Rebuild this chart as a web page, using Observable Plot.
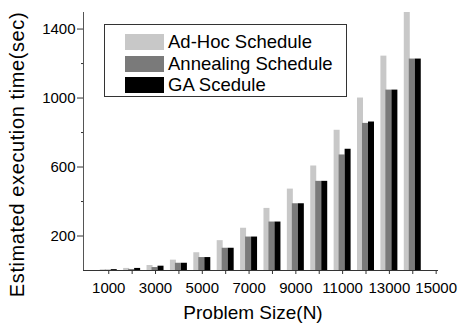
<!DOCTYPE html>
<html>
<head>
<meta charset="utf-8">
<script src="https://cdn.jsdelivr.net/npm/d3@7"></script>
<script src="https://cdn.jsdelivr.net/npm/@observablehq/plot@0.6"></script>
<style>
  html, body { margin: 0; padding: 0; background: #fff; }
  #wrap { position: relative; width: 461px; height: 326px; font-family: "Liberation Sans", Arial, sans-serif; }
  #legend { position: absolute; left: 104px; top: 24px; width: 241px; height: 71px; border: 1px solid #333; background: #fff; }
  .row { position: absolute; left: 20px; height: 16px; display: flex; align-items: center; }
  .sw { width: 39px; height: 16px; margin-right: 4px; }
  .lab { font-size: 18.5px; color: #000; white-space: nowrap; }
</style>
</head>
<body>
<div id="wrap"></div>
<script>
const sizes = [1000, 2000, 3000, 4000, 5000, 6000, 7000, 8000, 9000, 10000, 11000, 12000, 13000, 14000];
const adHoc     = [4, 12, 29, 60, 103, 173, 245, 360, 472, 606, 813, 1000, 1243, 1500];
const annealing = [2, 6, 17, 42, 75, 129, 194, 281, 387, 517, 670, 853, 1046, 1226];
const ga        = [5, 12, 25, 42, 75, 129, 194, 281, 387, 517, 703, 861, 1046, 1226];
const seriesNames = ["Ad-Hoc Schedule", "Annealing Schedule", "GA Scedule"];
const seriesColors = ["#c8c8c8", "#7a7a7a", "#000000"];
const xTicks = [1000,2000,3000,4000,5000,6000,7000,8000,9000,10000,11000,12000,13000,14000,15000];
const xTickLabels = [1000,3000,5000,7000,9000,11000,13000,15000];
const yMajor = [200, 600, 1000, 1400];
const yMinor = [400, 800, 1200];
const xDomain = [-80, 15100];
const yDomain = [0, 1496];

// bar offsets (in problem-size units) relative to group center
const offsets = [[-363, -107], [-150, 107], [107, 363]];
const seriesVals = [adHoc, annealing, ga];
const bars = [];
seriesVals.forEach((vals, s) => {
  sizes.forEach((n, i) => bars.push({n, s, v: vals[i], x1: n + offsets[s][0], x2: n + offsets[s][1]}));
});

const tickFont = "Liberation Sans, Arial, sans-serif";
const chart = Plot.plot({
  width: 461,
  height: 326,
  marginLeft: 83,
  marginRight: 23,
  marginTop: 12,
  marginBottom: 56,
  style: { fontFamily: tickFont, fontSize: "15px", color: "#000", background: "#fff" },
  x: { domain: xDomain },
  y: { domain: yDomain },
  marks: [
    Plot.rectY(bars.filter(d => d.s === 0), {x1: "x1", x2: "x2", y1: 0, y2: "v", fill: seriesColors[0], clip: true}),
    Plot.rectY(bars.filter(d => d.s === 1), {x1: "x1", x2: "x2", y1: 0, y2: "v", fill: seriesColors[1], clip: true}),
    Plot.rectY(bars.filter(d => d.s === 2), {x1: "x1", x2: "x2", y1: 0, y2: "v", fill: seriesColors[2], clip: true}),
    Plot.axisX({ticks: xTicks, tickSize: 4, tickPadding: 8, stroke: "#333",
      tickFormat: d => xTickLabels.includes(d) ? String(d) : "",
      fontSize: 15, label: "Problem Size(N)", labelAnchor: "center", labelArrow: "none", labelOffset: 48}),
    Plot.axisY({ticks: yMajor, tickSize: 6, tickPadding: 2, stroke: "#333", tickFormat: d => String(d),
      fontSize: 15, label: "Estimated execution time(sec)", labelAnchor: "center", labelArrow: "none", labelOffset: 74}),
    Plot.axisY({ticks: yMinor, tickSize: 2, stroke: "#333", tickFormat: () => "", label: null}),
    Plot.ruleY([0], {stroke: "#333"}),
    Plot.ruleX([xDomain[0]], {stroke: "#555"})
  ]
});

// enlarge axis titles
chart.querySelectorAll("g[aria-label='x-axis label'] text").forEach(t => { t.setAttribute("font-size", "19"); t.setAttribute("dx", "-8"); });
chart.querySelectorAll("g[aria-label='y-axis label'] text").forEach(t => {
  t.setAttribute("font-size", "20");
  t.setAttribute("letter-spacing", "0.6");
  t.setAttribute("dx", "-13");
});

const wrap = document.getElementById("wrap");
wrap.appendChild(chart);
const legend = document.createElement("div");
legend.id = "legend";
seriesNames.forEach((name, i) => {
  const row = document.createElement("div");
  row.className = "row";
  row.style.top = (9 + i * 21.5) + "px";
  const sw = document.createElement("div");
  sw.className = "sw";
  sw.style.background = seriesColors[i];
  const lab = document.createElement("span");
  lab.className = "lab";
  lab.textContent = name;
  row.appendChild(sw); row.appendChild(lab);
  legend.appendChild(row);
});
wrap.appendChild(legend);
</script>
</body>
</html>
